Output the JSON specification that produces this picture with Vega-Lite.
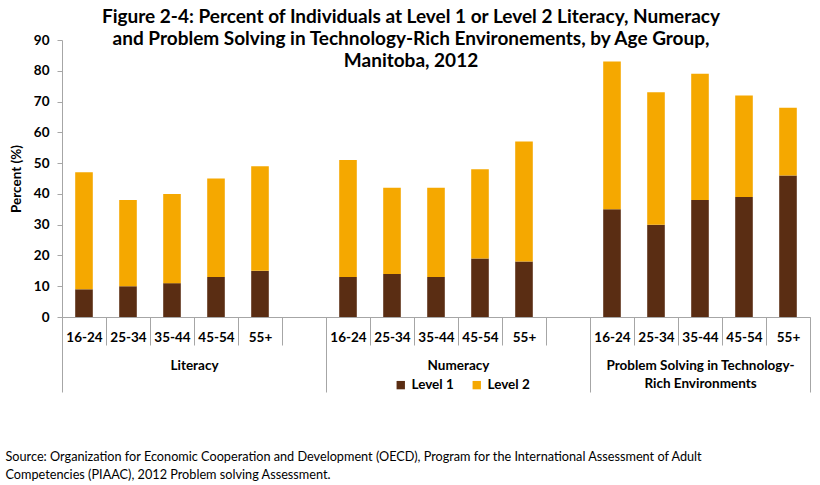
{
  "$schema": "https://vega.github.io/schema/vega-lite/v6.json",
  "width": 748,
  "height": 277,
  "autosize": {"type": "none"},
  "padding": {"left": 62, "top": 40, "right": 10, "bottom": 168},
  "background": "white",
  "config": {"font": "Lato", "view": {"stroke": null}},
  "title": {
    "text": ["Figure 2-4: Percent of Individuals at Level 1 or Level 2 Literacy, Numeracy", "and Problem Solving in Technology-Rich Environements, by Age Group,", "Manitoba, 2012"],
    "fontSize": 19,
    "fontWeight": "bold",
    "color": "black",
    "lineHeight": 22,
    "anchor": "middle",
    "dx": -25,
    "offset": -38
  },
  "data": {
    "values": [
      {"slot": "L1", "group": "Literacy", "age": "16-24", "level": "Level 1", "value": 9},
      {"slot": "L1", "group": "Literacy", "age": "16-24", "level": "Level 2", "value": 38},
      {"slot": "L2", "group": "Literacy", "age": "25-34", "level": "Level 1", "value": 10},
      {"slot": "L2", "group": "Literacy", "age": "25-34", "level": "Level 2", "value": 28},
      {"slot": "L3", "group": "Literacy", "age": "35-44", "level": "Level 1", "value": 11},
      {"slot": "L3", "group": "Literacy", "age": "35-44", "level": "Level 2", "value": 29},
      {"slot": "L4", "group": "Literacy", "age": "45-54", "level": "Level 1", "value": 13},
      {"slot": "L4", "group": "Literacy", "age": "45-54", "level": "Level 2", "value": 32},
      {"slot": "L5", "group": "Literacy", "age": "55+", "level": "Level 1", "value": 15},
      {"slot": "L5", "group": "Literacy", "age": "55+", "level": "Level 2", "value": 34},
      {"slot": "N1", "group": "Numeracy", "age": "16-24", "level": "Level 1", "value": 13},
      {"slot": "N1", "group": "Numeracy", "age": "16-24", "level": "Level 2", "value": 38},
      {"slot": "N2", "group": "Numeracy", "age": "25-34", "level": "Level 1", "value": 14},
      {"slot": "N2", "group": "Numeracy", "age": "25-34", "level": "Level 2", "value": 28},
      {"slot": "N3", "group": "Numeracy", "age": "35-44", "level": "Level 1", "value": 13},
      {"slot": "N3", "group": "Numeracy", "age": "35-44", "level": "Level 2", "value": 29},
      {"slot": "N4", "group": "Numeracy", "age": "45-54", "level": "Level 1", "value": 19},
      {"slot": "N4", "group": "Numeracy", "age": "45-54", "level": "Level 2", "value": 29},
      {"slot": "N5", "group": "Numeracy", "age": "55+", "level": "Level 1", "value": 18},
      {"slot": "N5", "group": "Numeracy", "age": "55+", "level": "Level 2", "value": 39},
      {"slot": "P1", "group": "Problem Solving", "age": "16-24", "level": "Level 1", "value": 35},
      {"slot": "P1", "group": "Problem Solving", "age": "16-24", "level": "Level 2", "value": 48},
      {"slot": "P2", "group": "Problem Solving", "age": "25-34", "level": "Level 1", "value": 30},
      {"slot": "P2", "group": "Problem Solving", "age": "25-34", "level": "Level 2", "value": 43},
      {"slot": "P3", "group": "Problem Solving", "age": "35-44", "level": "Level 1", "value": 38},
      {"slot": "P3", "group": "Problem Solving", "age": "35-44", "level": "Level 2", "value": 41},
      {"slot": "P4", "group": "Problem Solving", "age": "45-54", "level": "Level 1", "value": 39},
      {"slot": "P4", "group": "Problem Solving", "age": "45-54", "level": "Level 2", "value": 33},
      {"slot": "P5", "group": "Problem Solving", "age": "55+", "level": "Level 1", "value": 46},
      {"slot": "P5", "group": "Problem Solving", "age": "55+", "level": "Level 2", "value": 22}
    ]
  },
  "resolve": {"axis": {"x": "independent"}},
  "layer": [
    {
      "mark": {"type": "bar", "width": {"band": 0.4}},
      "encoding": {
        "x": {
          "field": "slot",
          "type": "nominal",
          "sort": null,
          "scale": {
            "domain": ["L1", "L2", "L3", "L4", "L5", "L6", "N1", "N2", "N3", "N4", "N5", "N6", "P1", "P2", "P3", "P4", "P5"],
            "paddingInner": 0,
            "paddingOuter": 0
          },
          "axis": {
            "title": null,
            "labelAngle": 0,
            "labelExpr": "['16-24','25-34','35-44','45-54','55+',''][toNumber(substring(datum.value,1))-1]",
            "labelFontSize": 13.5,
            "labelFontWeight": "bold",
            "labelColor": "black",
            "labelPadding": -15,
            "labelOverlap": false,
            "tickBand": "extent",
            "tickSize": 28,
            "tickColor": "#a6a6a6",
            "domainColor": "#a6a6a6"
          }
        },
        "y": {
          "field": "value",
          "type": "quantitative",
          "stack": "zero",
          "scale": {"domain": [0, 90]},
          "axis": {
            "title": "Percent (%)",
            "titleFontSize": 13.5,
            "titleFontWeight": "bold",
            "titleColor": "black",
            "titlePadding": 10,
            "values": [0, 10, 20, 30, 40, 50, 60, 70, 80, 90],
            "labelFontSize": 13.5,
            "labelFontWeight": "bold",
            "labelColor": "black",
            "labelPadding": 8,
            "grid": false,
            "tickSize": 5,
            "tickColor": "#a6a6a6",
            "domainColor": "#a6a6a6"
          }
        },
        "order": {"field": "level", "sort": "ascending"},
        "color": {
          "field": "level",
          "type": "nominal",
          "scale": {"domain": ["Level 1", "Level 2"], "range": ["#5a2d13", "#f5a800"]},
          "legend": {
            "orient": "none",
            "legendX": 332,
            "legendY": 338,
            "direction": "horizontal",
            "title": null,
            "symbolType": "square",
            "symbolSize": 70,
            "symbolStrokeWidth": 0,
            "labelFontSize": 13.5,
            "labelFontWeight": "bold",
            "labelColor": "black",
            "columnPadding": 16,
            "padding": 0
          }
        }
      }
    },
    {
      "mark": {"type": "bar", "opacity": 0},
      "encoding": {
        "x": {
          "field": "slot",
          "type": "nominal",
          "sort": null,
          "axis": {
            "orient": "bottom",
            "domain": false,
            "labelAngle": 0,
            "tickBand": "extent",
            "tickSize": 75,
            "tickColor": "#a6a6a6",
            "tickOpacity": {"condition": {"test": "!isValid(datum.value) || datum.value=='L6' || datum.value=='N6' || datum.value=='P5'", "value": 1}, "value": 0},
            "labelExpr": "datum.value=='L3' ? 'Literacy' : datum.value=='N3' ? 'Numeracy' : datum.value=='P3' ? ['Problem Solving in Technology-','Rich Environments'] : ''",
            "labelOffset": {"condition": {"test": "datum.value=='P3'", "value": 0}, "value": 22},
            "labelPadding": -34,
            "labelFontSize": 13.5,
            "labelFontWeight": "bold",
            "labelColor": "black",
            "labelLineHeight": 18,
            "labelLimit": 0,
            "labelOverlap": false,
            "title": ["Source: Organization for Economic Cooperation and Development (OECD), Program for the International Assessment of Adult", "Competencies  (PIAAC), 2012 Problem solving Assessment."],
            "titleFontSize": 12.7,
            "titleFontWeight": "normal",
            "titleColor": "black",
            "titleAnchor": "start",
            "titleAlign": "left",
            "titleBaseline": "top",
            "titleX": -57,
            "titleY": 133,
            "titleLineHeight": 18
          }
        }
      }
    }
  ]
}
